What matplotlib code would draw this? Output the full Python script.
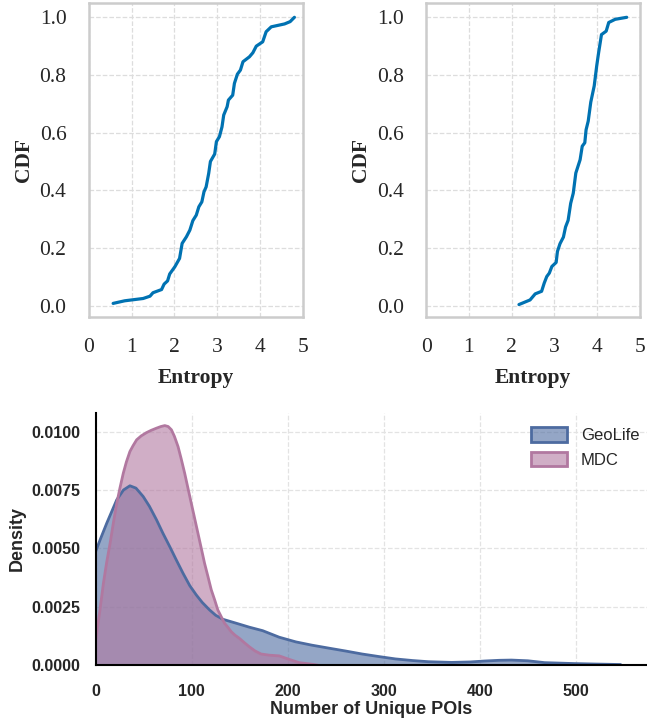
import matplotlib
matplotlib.use("Agg")
import matplotlib.pyplot as plt
from matplotlib.patches import Patch
from matplotlib.colors import to_rgba

# ---------------- data ----------------
# CDF of entropy, left panel
left_entropy = [0.57, 0.84, 1.27, 1.43, 1.50, 1.70, 1.76, 1.84, 1.89, 2.01, 2.12, 2.18,
                2.28, 2.36, 2.43, 2.51, 2.57, 2.64, 2.69, 2.74, 2.80, 2.84, 2.94, 2.98,
                3.05, 3.11, 3.15, 3.23, 3.26, 3.36, 3.40, 3.47, 3.54, 3.60, 3.75, 3.83,
                3.91, 4.06, 4.14, 4.26, 4.57, 4.70, 4.80]
left_cdf = [0.008, 0.017, 0.025, 0.033, 0.045, 0.056, 0.075, 0.086, 0.110, 0.135, 0.164, 0.216,
            0.239, 0.262, 0.295, 0.314, 0.343, 0.360, 0.395, 0.412, 0.459, 0.500, 0.526, 0.569,
            0.586, 0.620, 0.661, 0.690, 0.713, 0.730, 0.771, 0.803, 0.817, 0.846, 0.863, 0.877,
            0.900, 0.915, 0.950, 0.967, 0.977, 0.985, 1.000]

# CDF of entropy, right panel
right_entropy = [2.17, 2.43, 2.55, 2.70, 2.76, 2.82, 2.88, 2.94, 3.04, 3.07, 3.13, 3.21,
                 3.26, 3.32, 3.38, 3.44, 3.50, 3.60, 3.65, 3.71, 3.74, 3.79, 3.85, 3.93,
                 3.99, 4.03, 4.10, 4.21, 4.27, 4.42, 4.69]
right_cdf = [0.004, 0.020, 0.041, 0.050, 0.078, 0.101, 0.113, 0.136, 0.150, 0.188, 0.215, 0.238,
             0.273, 0.296, 0.355, 0.390, 0.460, 0.506, 0.553, 0.565, 0.610, 0.640, 0.706, 0.762,
             0.833, 0.874, 0.940, 0.952, 0.982, 0.993, 1.000]

# Density of number of unique POIs
geolife_x = [0, 5, 11.6, 17, 22, 29, 35.7, 42, 49.5, 56, 63.4, 70, 77.2, 84, 91, 98, 104.8,
             111, 118.6, 125, 132.4, 146.3, 160, 173.9, 191.1, 208.4, 225, 243, 260,
             277.4, 295, 312, 330, 346.5, 370.7, 390, 405, 420, 432.8, 450, 467.4, 498.5,
             520, 546]
geolife_density = [0.00486, 0.00540, 0.00608, 0.00660, 0.00708, 0.00750, 0.00768, 0.00758,
                   0.00722, 0.00680, 0.00622, 0.00565, 0.00507, 0.00450, 0.00393, 0.00340,
                   0.00300, 0.00268, 0.00236, 0.00213, 0.00196, 0.00179, 0.00162, 0.00147,
                   0.00119, 0.00099, 0.00085, 0.00072, 0.00060, 0.00047, 0.00036, 0.00026,
                   0.00019, 0.00014, 0.00011, 0.00013, 0.00017, 0.00020, 0.00021, 0.00018,
                   0.00010, 0.00006, 0.00004, 0.00002]

mdc_x = [0, 4, 8.1, 11.5, 15, 18.5, 22, 25.4, 28.8, 32, 35.7, 39, 42.7, 47.5, 53, 58, 63.4,
         68, 72, 75.5, 78.9, 82, 85.8, 89, 92.7, 96, 99.6, 103, 106.5, 110, 113.4, 117,
         120.4, 124, 127.2, 131, 134.2, 138, 141.1, 145, 149.7, 155, 160, 166, 172.2,
         180.8, 191.1, 201.5, 211.9, 225.6, 230]
mdc_density = [0.00107, 0.00220, 0.00350, 0.00440, 0.00520, 0.00610, 0.00693, 0.00760,
               0.00822, 0.00870, 0.00915, 0.00940, 0.00965, 0.00982, 0.00996, 0.01006,
               0.01015, 0.01022, 0.01026, 0.01022, 0.01008, 0.00980, 0.00936, 0.00885,
               0.00822, 0.00760, 0.00693, 0.00630, 0.00565, 0.00500, 0.00436, 0.00378,
               0.00322, 0.00278, 0.00236, 0.00205, 0.00179, 0.00160, 0.00143, 0.00128,
               0.00114, 0.00095, 0.00078, 0.00060, 0.00047, 0.00042, 0.00039, 0.00024,
               0.00010, 0.00003, 0.0]

series_names = ["GeoLife", "MDC"]
entropy_ticks = [0, 1, 2, 3, 4, 5]
cdf_ticks = [0.0, 0.2, 0.4, 0.6, 0.8, 1.0]
poi_ticks = [0, 100, 200, 300, 400, 500]
density_ticks = [0.0, 0.0025, 0.0050, 0.0075, 0.0100]

# ---------------- figure ----------------
fig = plt.figure(figsize=(6.47, 7.21), dpi=100)

serif = "Liberation Serif"
sans = "Liberation Sans"
line_blue = "#0072B2"
box_gray = "#cccccc"
grid_gray = "#dddddd"

def cdf_panel(rect, xs, ys):
    ax = fig.add_axes(rect)
    ax.plot(xs, ys, color=line_blue, lw=2.3, solid_capstyle="round",
            solid_joinstyle="round")
    ax.set_xlim(0, 5)
    ax.set_ylim(-0.04, 1.05)
    ax.set_xticks(entropy_ticks)
    ax.set_yticks(cdf_ticks)
    ax.set_yticklabels([f"{v:.1f}" for v in cdf_ticks])
    ax.grid(True, ls="--", color=grid_gray, lw=0.9)
    ax.set_axisbelow(True)
    for s in ax.spines.values():
        s.set_color(box_gray)
        s.set_linewidth(1.8)
    ax.tick_params(axis="both", length=0, labelsize=15.5, colors="#262626")
    ax.tick_params(axis="x", pad=15)
    ax.tick_params(axis="y", pad=16)
    for lab in ax.get_xticklabels() + ax.get_yticklabels():
        lab.set_fontfamily(serif)
    ax.set_xlabel("Entropy", fontfamily=serif, fontsize=15.5, fontweight="bold",
                  color="#262626", labelpad=8)
    ax.set_ylabel("CDF", fontfamily=serif, fontsize=15.5, fontweight="bold",
                  color="#262626", labelpad=4)
    return ax

cdf_panel([0.1371, 0.560, 0.3312, 0.436], left_entropy, left_cdf)
cdf_panel([0.6587, 0.560, 0.3304, 0.436], right_entropy, right_cdf)

# bottom density panel
ax = fig.add_axes([0.1478, 0.0777, 0.8522, 0.3495])
geo_c = "#4D6BA0"
mdc_c = "#B178A0"
ax.fill_between(geolife_x, geolife_density, 0, facecolor=geo_c, alpha=0.6, lw=0)
ax.plot(geolife_x, geolife_density, color=geo_c, lw=2.0, solid_joinstyle="round")
ax.fill_between(mdc_x, mdc_density, 0, facecolor=mdc_c, alpha=0.6, lw=0)
ax.plot(mdc_x, mdc_density, color=mdc_c, lw=2.0, solid_joinstyle="round")
ax.set_xlim(0, 574)
ax.set_ylim(0, 0.0108)
ax.set_xticks(poi_ticks)
ax.set_yticks(density_ticks)
ax.set_yticklabels([f"{v:.4f}" for v in density_ticks])
ax.grid(True, ls="--", color="#e3e3e3", lw=0.9)
ax.set_axisbelow(True)
for side in ["top", "right"]:
    ax.spines[side].set_visible(False)
for side in ["left", "bottom"]:
    ax.spines[side].set_color("black")
    ax.spines[side].set_linewidth(1.5)
ax.tick_params(axis="both", length=0, labelsize=11.5, colors="#262626")
ax.tick_params(axis="x", pad=14)
ax.tick_params(axis="y", pad=11)
for lab in ax.get_xticklabels() + ax.get_yticklabels():
    lab.set_fontfamily(sans)
    lab.set_fontweight("bold")
ax.set_xlabel("Number of Unique POIs", fontfamily=sans, fontsize=13, fontweight="bold",
              color="#262626", labelpad=1)
ax.set_ylabel("Density", fontfamily=sans, fontsize=13, fontweight="bold",
              color="#262626", labelpad=4)
handles = [Patch(facecolor=to_rgba(geo_c, 0.6), edgecolor=geo_c, lw=2),
           Patch(facecolor=to_rgba(mdc_c, 0.6), edgecolor=mdc_c, lw=2)]
leg = ax.legend(handles, series_names, loc="upper right", frameon=False,
                bbox_to_anchor=(1.004, 0.984),
                prop={"family": sans, "size": 12}, handlelength=2.2, handleheight=1.0,
                borderaxespad=0.2, labelspacing=0.5, handletextpad=0.8)
for t in leg.get_texts():
    t.set_color("#262626")

fig.savefig("out.png", dpi=100)
